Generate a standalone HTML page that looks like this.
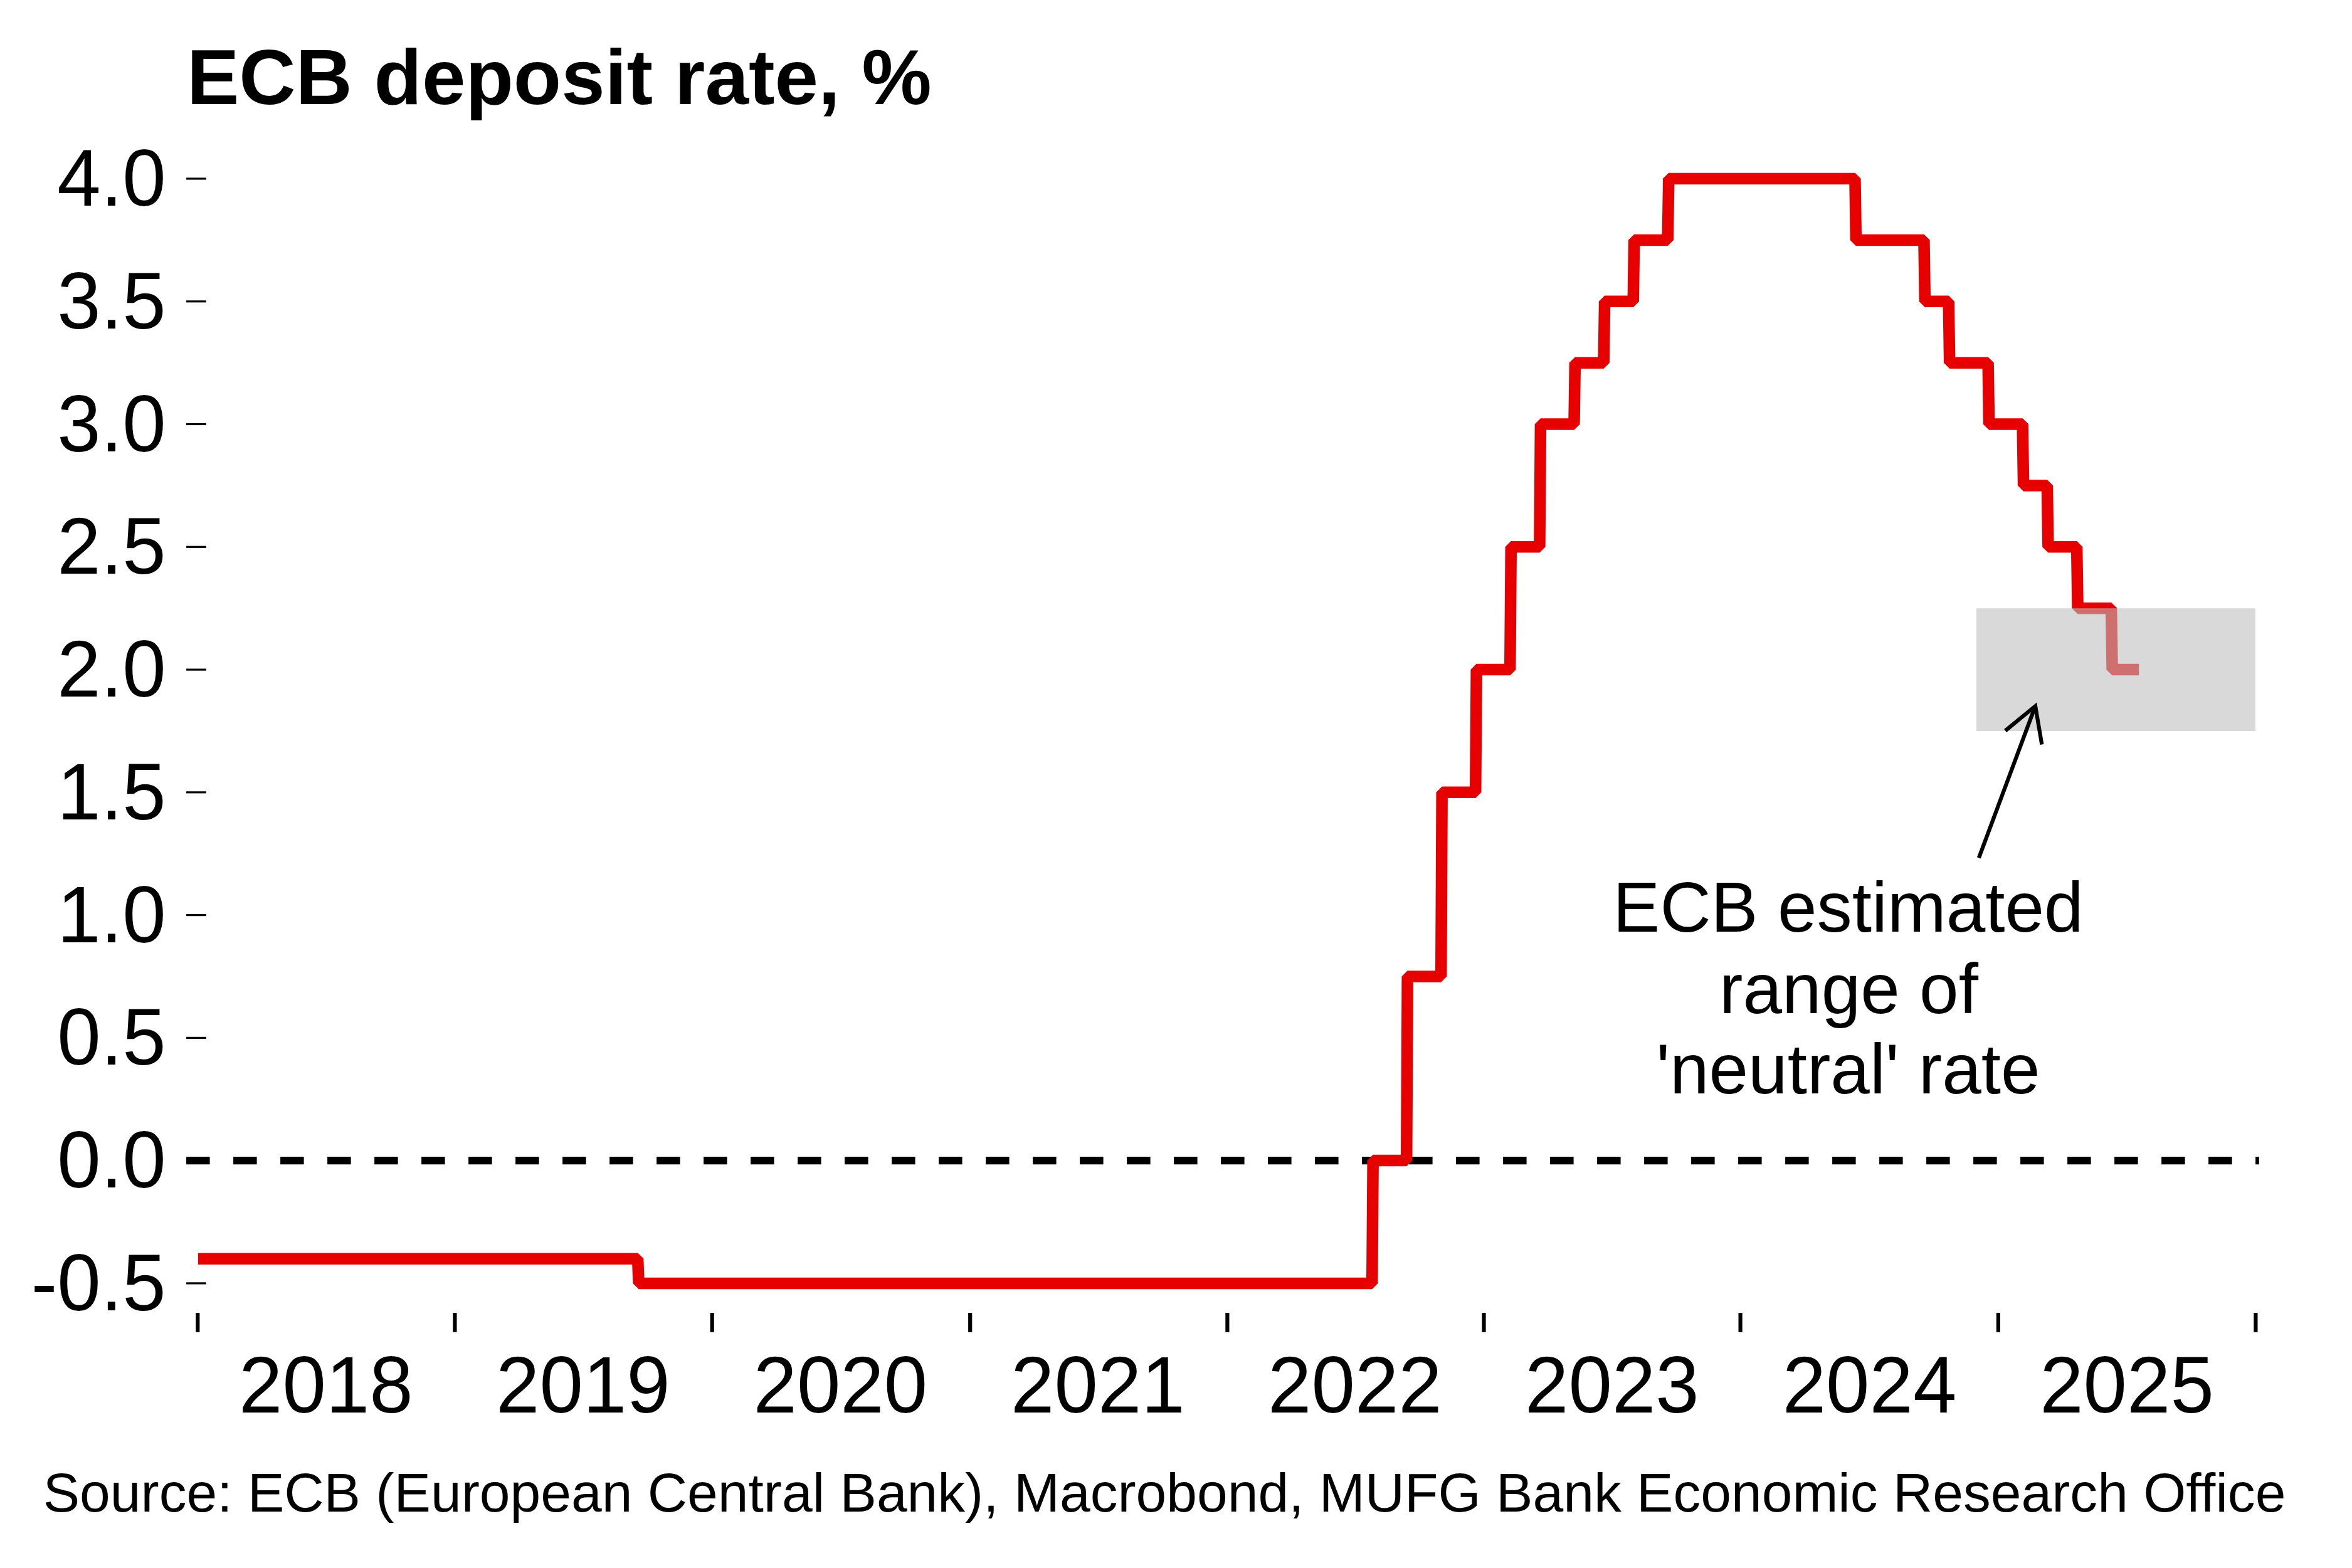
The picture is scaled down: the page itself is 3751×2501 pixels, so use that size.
<!DOCTYPE html>
<html lang="en"><head><meta charset="utf-8"><title>ECB deposit rate</title>
<style>
html,body{margin:0;padding:0;background:#fff;}
body{width:3751px;height:2501px;overflow:hidden;}
svg{display:block;}
text{font-family:"Liberation Sans",Arial,Helvetica,sans-serif;fill:#000;}
</style></head><body>
<svg width="3751" height="2501" viewBox="0 0 3751 2501">
<rect x="0" y="0" width="3751" height="2501" fill="#fff"/>
<text transform="translate(297.9,166.0) scale(1,1.0)" font-size="125.0" font-weight="bold">ECB deposit rate, %</text>

<g font-size="124.8" text-anchor="end">
<text transform="translate(264.7,328.0) scale(1,1.03)">4.0</text>
<text transform="translate(264.7,523.8) scale(1,1.03)">3.5</text>
<text transform="translate(264.7,719.5) scale(1,1.03)">3.0</text>
<text transform="translate(264.7,915.3) scale(1,1.03)">2.5</text>
<text transform="translate(264.7,1111.1) scale(1,1.03)">2.0</text>
<text transform="translate(264.7,1306.8) scale(1,1.03)">1.5</text>
<text transform="translate(264.7,1502.6) scale(1,1.03)">1.0</text>
<text transform="translate(264.7,1698.4) scale(1,1.03)">0.5</text>
<text transform="translate(264.7,1894.1) scale(1,1.03)">0.0</text>
<text transform="translate(264.7,2089.9) scale(1,1.03)">-0.5</text>
</g>
<g stroke="#000" stroke-width="3.2" fill="none">
<line x1="297.1" x2="328.8" y1="285.0" y2="285.0"/>
<line x1="297.1" x2="328.8" y1="480.8" y2="480.8"/>
<line x1="297.1" x2="328.8" y1="676.5" y2="676.5"/>
<line x1="297.1" x2="328.8" y1="872.3" y2="872.3"/>
<line x1="297.1" x2="328.8" y1="1068.1" y2="1068.1"/>
<line x1="297.1" x2="328.8" y1="1263.8" y2="1263.8"/>
<line x1="297.1" x2="328.8" y1="1459.6" y2="1459.6"/>
<line x1="297.1" x2="328.8" y1="1655.4" y2="1655.4"/>
<line x1="297.1" x2="328.8" y1="1851.1" y2="1851.1"/>
<line x1="297.1" x2="328.8" y1="2046.9" y2="2046.9"/>
</g>
<g stroke="#000" stroke-width="6.2" fill="none">
<line x1="315.3" x2="315.3" y1="2094.0" y2="2124.8"/>
<line x1="725.4" x2="725.4" y1="2094.0" y2="2124.8"/>
<line x1="1135.7" x2="1135.7" y1="2094.0" y2="2124.8"/>
<line x1="1547.2" x2="1547.2" y1="2094.0" y2="2124.8"/>
<line x1="1957.4" x2="1957.4" y1="2094.0" y2="2124.8"/>
<line x1="2366.5" x2="2366.5" y1="2094.0" y2="2124.8"/>
<line x1="2775.6" x2="2775.6" y1="2094.0" y2="2124.8"/>
<line x1="3186.9" x2="3186.9" y1="2094.0" y2="2124.8"/>
<line x1="3597.4" x2="3597.4" y1="2094.0" y2="2124.8"/>
</g>
<g font-size="124.8" text-anchor="middle">
<text transform="translate(519.8,2253.0) scale(1,1.03)">2018</text>
<text transform="translate(929.8,2253.0) scale(1,1.03)">2019</text>
<text transform="translate(1340.3,2253.0) scale(1,1.03)">2020</text>
<text transform="translate(1750.9,2253.0) scale(1,1.03)">2021</text>
<text transform="translate(2160.9,2253.0) scale(1,1.03)">2022</text>
<text transform="translate(2570.9,2253.0) scale(1,1.03)">2023</text>
<text transform="translate(2981.5,2253.0) scale(1,1.03)">2024</text>
<text transform="translate(3392.0,2253.0) scale(1,1.03)">2025</text>
</g>
<line x1="297.1" x2="3602.8" y1="1851.1" y2="1851.1" stroke="#000" stroke-width="12.3" stroke-dasharray="37.5 37.5"/>
<path d="M315.9,2007.7 L1017.1,2007.7 L1018.6,2046.9 L2188.2,2046.9 L2189.7,1851.1 L2243.2,1851.1 L2244.7,1557.5 L2298.2,1557.5 L2299.7,1263.8 L2353.2,1263.8 L2354.7,1068.1 L2408.2,1068.1 L2409.8,872.3 L2455.4,872.3 L2456.9,676.5 L2510.4,676.5 L2511.9,578.7 L2557.6,578.7 L2559.1,480.8 L2604.7,480.8 L2606.2,382.9 L2659.7,382.9 L2661.3,285.0 L2958.4,285.0 L2959.9,382.9 L3068.4,382.9 L3069.9,480.8 L3107.7,480.8 L3109.2,578.7 L3170.6,578.7 L3172.1,676.5 L3225.6,676.5 L3227.1,774.4 L3264.9,774.4 L3266.4,872.3 L3312.1,872.3 L3313.6,970.2 L3367.1,970.2 L3368.6,1068.1 L3411.2,1068.1" fill="none" stroke="#e60000" stroke-width="18.5" stroke-linejoin="bevel" stroke-linecap="butt"/>
<rect x="3152.0" y="970.2" width="444.8" height="195.8" fill="#bebebe" fill-opacity="0.588"/>
<path d="M3155.9,1368.3 L3246.0,1126.2" fill="none" stroke="#000" stroke-width="6.2"/>
<path d="M3198.1,1165.5 L3246.0,1126.2 L3256.4,1187.5" fill="none" stroke="#000" stroke-width="6.2" stroke-linejoin="miter" stroke-miterlimit="10"/>
<g font-size="112.5" text-anchor="middle"><text transform="translate(2947.5,1485.8) scale(1,1.0)">ECB estimated</text><text transform="translate(2948.5,1615.6) scale(1,1.0)">range of</text><text transform="translate(2947.5,1744.1) scale(1,1.0)">&#39;neutral&#39; rate</text></g>
<text transform="translate(68.7,2411.0) scale(1,1.0)" font-size="87.6">Source: ECB (European Central Bank), Macrobond, MUFG Bank Economic Research Office</text>
</svg></body></html>
